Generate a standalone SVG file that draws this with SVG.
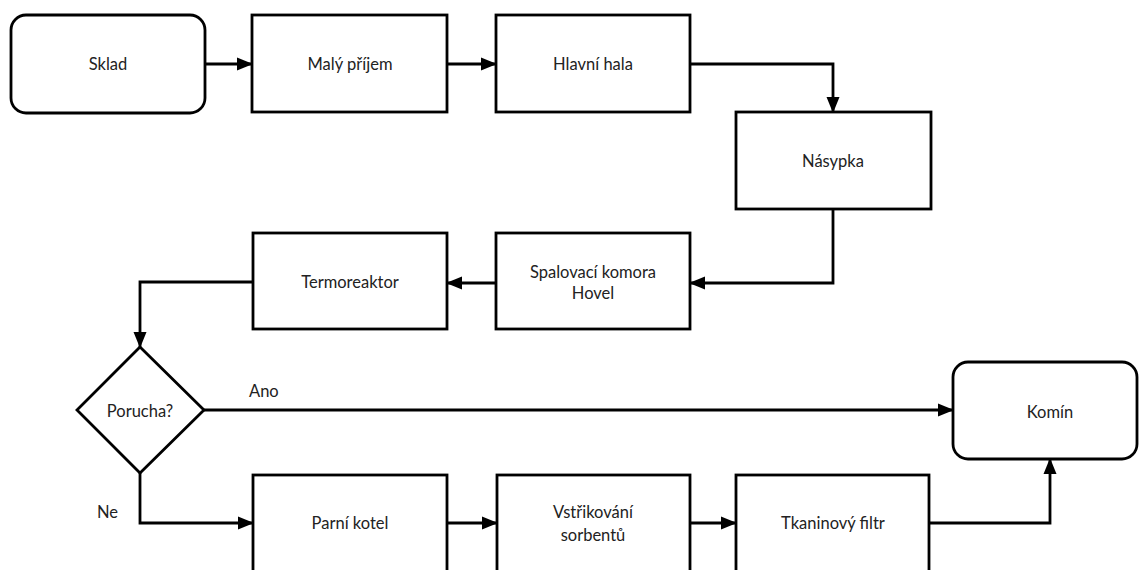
<svg xmlns="http://www.w3.org/2000/svg" width="1139" height="570" viewBox="0 0 1139 570">
<defs>
<marker id="arr" markerUnits="userSpaceOnUse" markerWidth="16" markerHeight="16" viewBox="0 0 16 16" refX="15" refY="8" orient="auto">
<path d="M0,1.5 L16,8 L0,14.5 Z" fill="#000"/>
</marker>
<style>
.box{fill:#fff;stroke:#000;stroke-width:2.8}
.ln{fill:none;stroke:#000;stroke-width:2.8;marker-end:url(#arr)}
.t{font-family:Lato,"Liberation Sans",sans-serif;font-size:16.5px;fill:#222;text-anchor:middle;dominant-baseline:central}
.lbl{font-family:Lato,"Liberation Sans",sans-serif;font-size:16.5px;fill:#222;dominant-baseline:central}
</style>
</defs>
<rect width="1139" height="570" fill="#fff"/>
<g id="connectors">
<path class="ln" d="M205,64 H252"/>
<path class="ln" d="M447,64 H496"/>
<path class="ln" d="M690,64 H833 V112"/>
<path class="ln" d="M833,209 V283 H690"/>
<path class="ln" d="M496,283 H447"/>
<path class="ln" d="M253,282 H140 V347"/>
<path class="ln" d="M204,410 H953"/>
<path class="ln" d="M140,473 V523 H253"/>
<path class="ln" d="M447,523 H497"/>
<path class="ln" d="M690,523 H736"/>
<path class="ln" d="M929,523 H1050 V459"/>
<text class="lbl" x="249" y="391">Ano</text>
<text class="lbl" x="97" y="512">Ne</text>
</g>
<g id="sklad"><rect class="box" x="11" y="15" width="194" height="98" rx="15"/><text class="t" x="108" y="64">Sklad</text></g>
<g id="maly-prijem"><rect class="box" x="252" y="15" width="195" height="97"/><text class="t" x="350" y="64">Malý příjem</text></g>
<g id="hlavni-hala"><rect class="box" x="496" y="15" width="194" height="97"/><text class="t" x="593" y="64">Hlavní hala</text></g>
<g id="nasypka"><rect class="box" x="736" y="112" width="195" height="97"/><text class="t" x="833" y="161">Násypka</text></g>
<g id="spalovaci-komora"><rect class="box" x="496" y="233" width="194" height="96"/><text class="t" x="593" y="272">Spalovací komora</text><text class="t" x="593" y="293">Hovel</text></g>
<g id="termoreaktor"><rect class="box" x="253" y="233" width="194" height="96"/><text class="t" x="350" y="282">Termoreaktor</text></g>
<g id="porucha"><polygon class="box" points="140,347 204,410 140,473 77,410"/><text class="t" x="140" y="411">Porucha?</text></g>
<g id="komin"><rect class="box" x="953" y="362" width="184" height="97" rx="15"/><text class="t" x="1050" y="412">Komín</text></g>
<g id="parni-kotel"><rect class="box" x="253" y="475" width="194" height="110"/><text class="t" x="350" y="523">Parní kotel</text></g>
<g id="vstrikovani"><rect class="box" x="497" y="475" width="193" height="110"/><text class="t" x="593" y="512">Vstřikování</text><text class="t" x="593" y="535">sorbentů</text></g>
<g id="tkaninovy-filtr"><rect class="box" x="736" y="475" width="193" height="110"/><text class="t" x="833" y="523">Tkaninový filtr</text></g>
</svg>
